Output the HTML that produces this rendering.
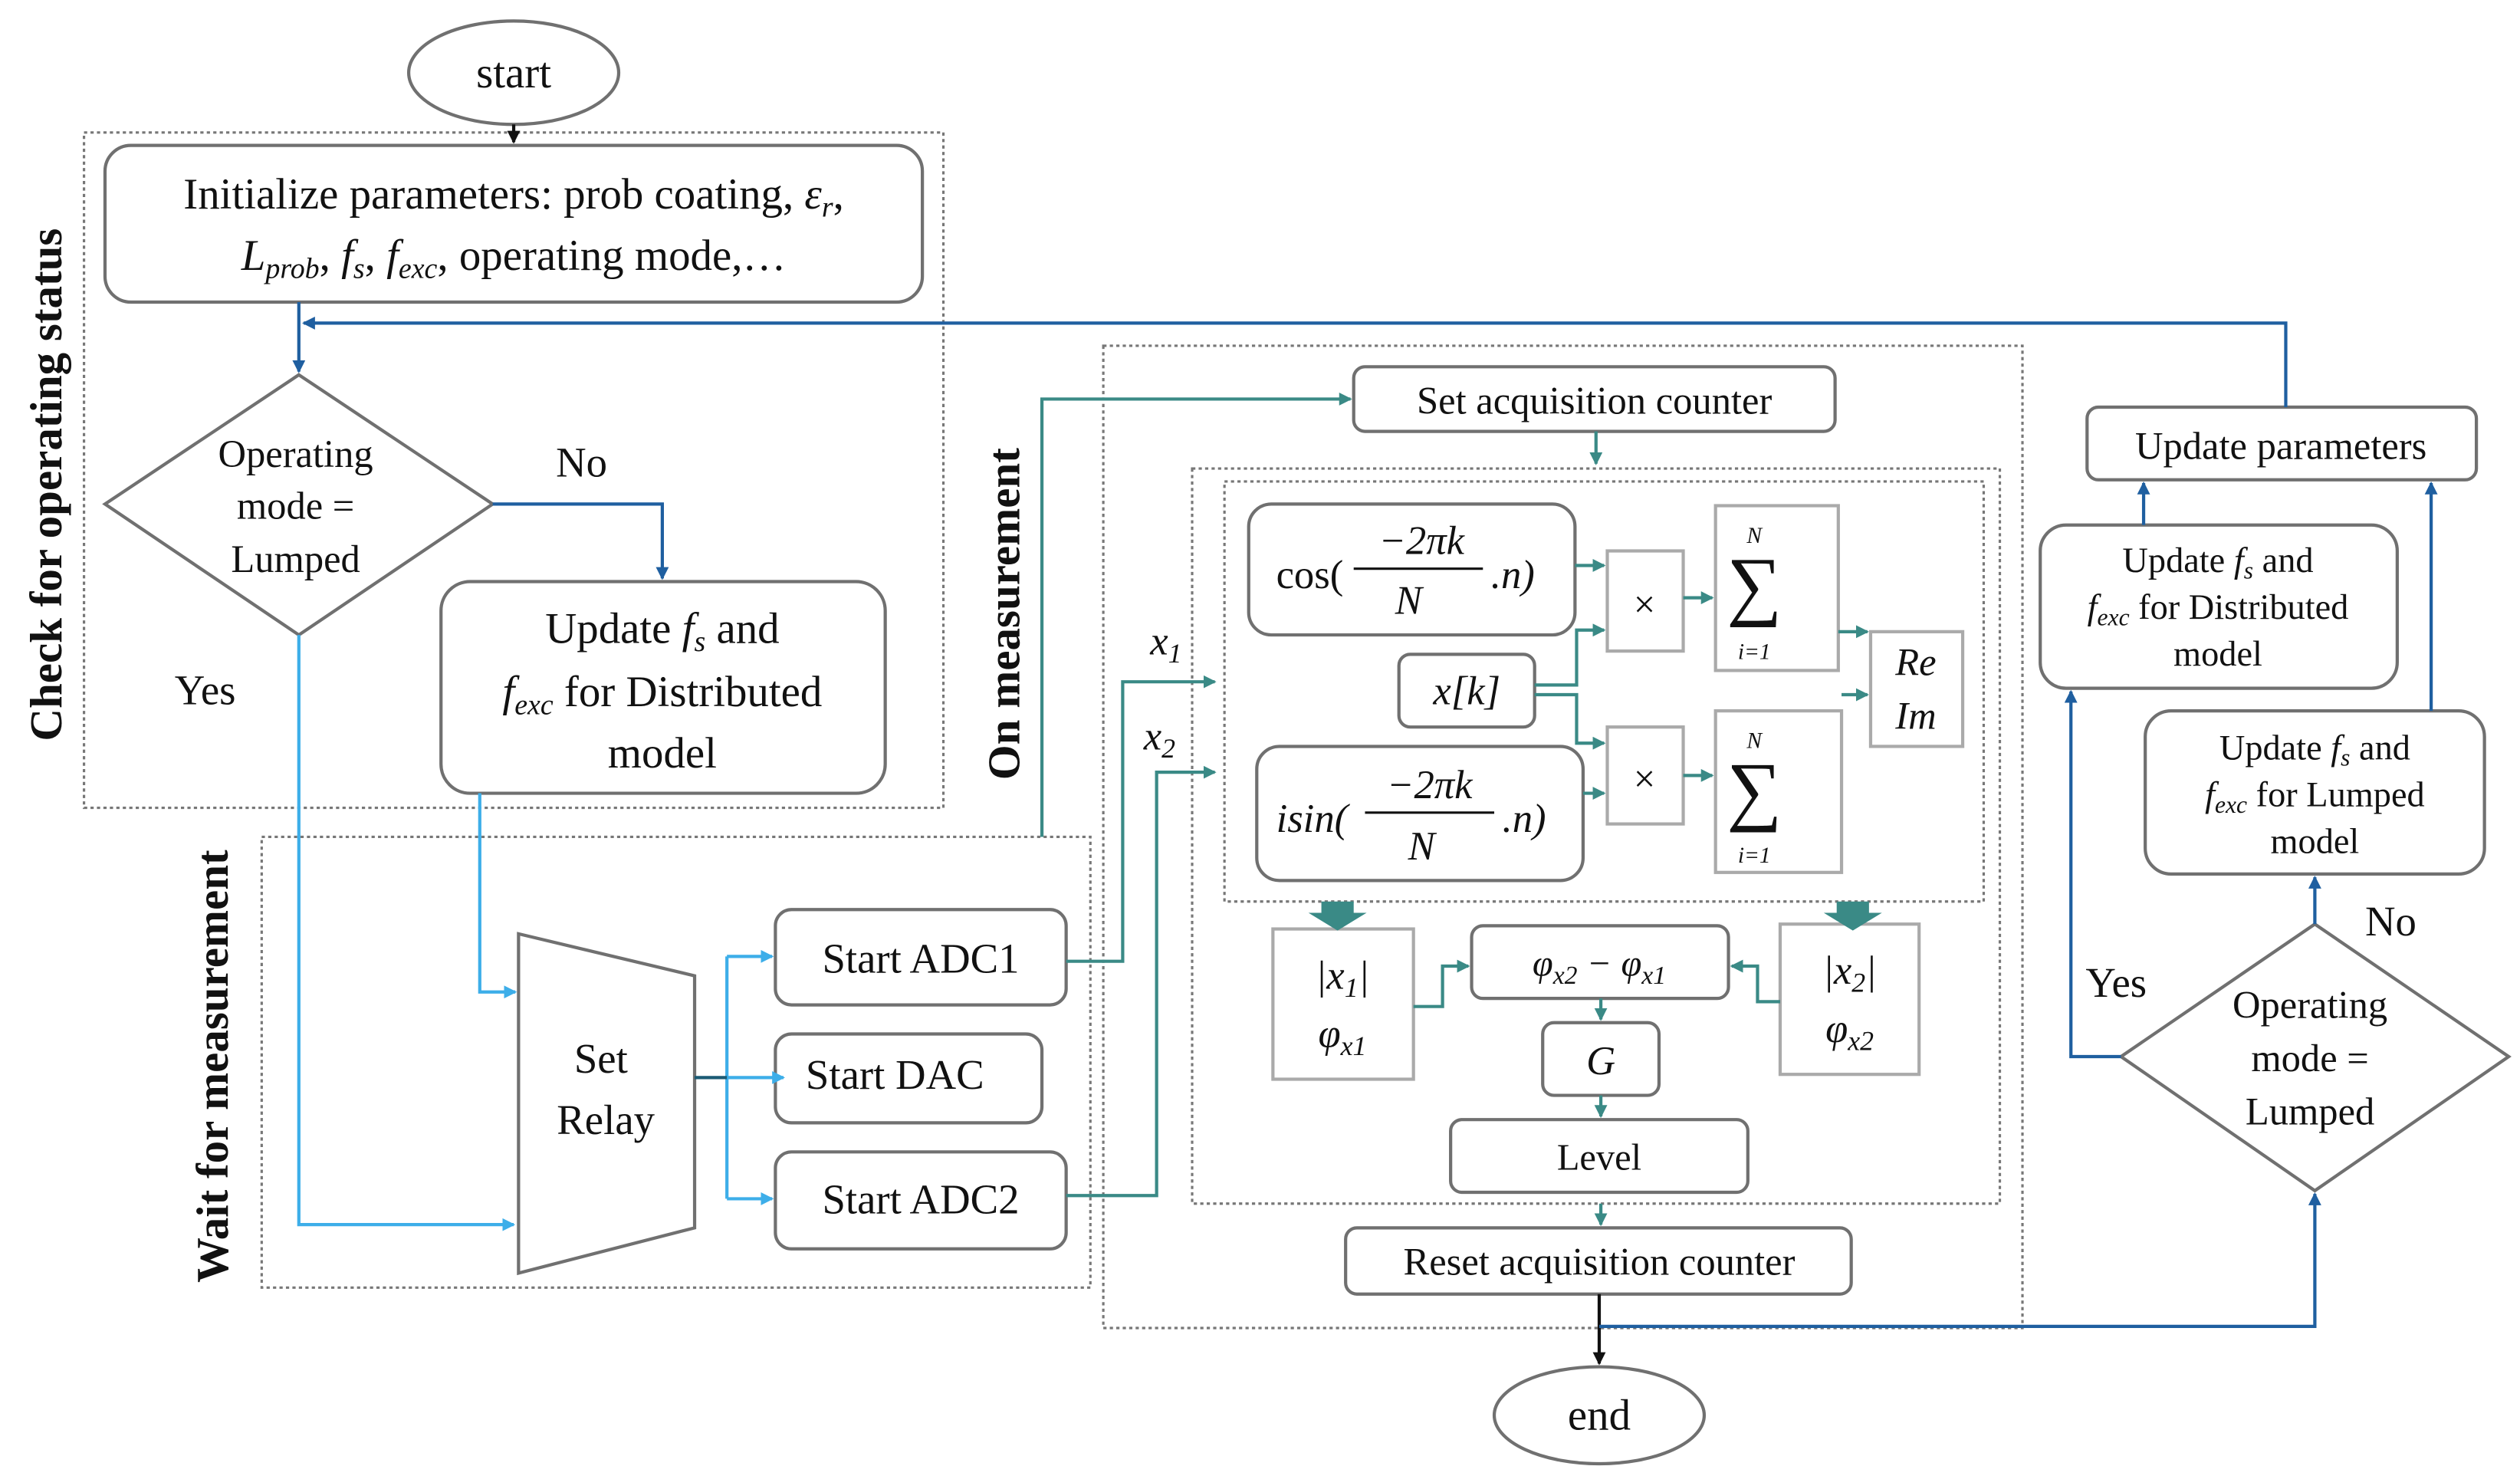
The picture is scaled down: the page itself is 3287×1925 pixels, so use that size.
<!DOCTYPE html>
<html><head><meta charset="utf-8"><style>
html,body{margin:0;padding:0;background:#fff;}
svg{display:block;}
text{font-family:"Liberation Serif",serif;fill:#111;}
.i{font-style:italic;}
</style></head><body>
<svg width="3287" height="1925" viewBox="0 0 1560 913.6" xmlns="http://www.w3.org/2000/svg">
<defs>
<marker id="ab" markerWidth="8" markerHeight="8" refX="7" refY="4" orient="auto" markerUnits="userSpaceOnUse"><path d="M0,0 L8,4 L0,8 z" fill="#1f5fa0"/></marker>
<marker id="al" markerWidth="8" markerHeight="8" refX="7" refY="4" orient="auto" markerUnits="userSpaceOnUse"><path d="M0,0 L8,4 L0,8 z" fill="#3daee9"/></marker>
<marker id="at" markerWidth="8" markerHeight="8" refX="7" refY="4" orient="auto" markerUnits="userSpaceOnUse"><path d="M0,0 L8,4 L0,8 z" fill="#3a8a86"/></marker>
<marker id="ak" markerWidth="8" markerHeight="8" refX="7" refY="4" orient="auto" markerUnits="userSpaceOnUse"><path d="M0,0 L8,4 L0,8 z" fill="#111"/></marker>
</defs>
<g fill="none" stroke="#777" stroke-width="1.5" stroke-dasharray="2,2">
<rect x="52" y="82" width="532" height="418"/>
<rect x="162" y="518" width="513" height="279"/>
<rect x="683" y="214" width="569" height="608"/>
<rect x="738" y="290" width="500" height="455"/>
<rect x="758" y="298" width="470" height="260"/>
</g>
<g fill="#fff" stroke="#707070" stroke-width="2">
<ellipse cx="318" cy="45" rx="65" ry="32"/>
<rect x="65" y="90" width="506" height="97" rx="16"/>
<polygon points="185,232 305,312 185,393 65,312"/>
<rect x="273" y="360" width="275" height="131" rx="18"/>
<polygon points="321,578 430,604 430,760 321,788"/>
<rect x="480" y="563" width="180" height="59" rx="10"/>
<rect x="480" y="640" width="165" height="55" rx="10"/>
<rect x="480" y="713" width="180" height="60" rx="10"/>
<rect x="838" y="227" width="298" height="40" rx="7"/>
<rect x="773" y="312" width="202" height="81" rx="14"/>
<rect x="778" y="462" width="202" height="83" rx="14"/>
<rect x="866" y="405" width="84" height="45" rx="7"/>
<rect x="911" y="573" width="159" height="45" rx="7"/>
<rect x="955" y="633" width="72" height="45" rx="7"/>
<rect x="898" y="693" width="184" height="45" rx="7"/>
<rect x="833" y="760" width="313" height="41" rx="7"/>
<ellipse cx="990" cy="876" rx="65" ry="30"/>
<polygon points="1433,572 1553,654 1433,737 1313,654"/>
<rect x="1263" y="325" width="221" height="101" rx="16"/>
<rect x="1328" y="440" width="210" height="101" rx="16"/>
<rect x="1292" y="252" width="241" height="45" rx="7"/>
</g>
<g fill="#fff" stroke="#aaa" stroke-width="2">
<rect x="995" y="341" width="47" height="62"/>
<rect x="995" y="450" width="47" height="60"/>
<rect x="1062" y="313" width="76" height="102"/>
<rect x="1062" y="440" width="78" height="100"/>
<rect x="1158" y="391" width="57" height="71"/>
<rect x="788" y="575" width="87" height="93"/>
<rect x="1102" y="572" width="86" height="93"/>
</g>
<g fill="none" stroke-width="2">
<path d="M318,77 V88" stroke="#111" marker-end="url(#ak)"/>
<path d="M1415,252 V200 H188" stroke="#1f5fa0" marker-end="url(#ab)"/>
<path d="M185,187 V230" stroke="#1f5fa0" marker-end="url(#ab)"/>
<path d="M305,312 H410 V358" stroke="#1f5fa0" marker-end="url(#ab)"/>
<path d="M185,393 V758 H318" stroke="#3daee9" marker-end="url(#al)"/>
<path d="M297,491 V614 H319" stroke="#3daee9" marker-end="url(#al)"/>
<path d="M450,592 V742" stroke="#3daee9"/>
<path d="M450,592 H478" stroke="#3daee9" marker-end="url(#al)"/>
<path d="M450,742 H478" stroke="#3daee9" marker-end="url(#al)"/>
<path d="M450,667 H485" stroke="#3daee9" marker-end="url(#al)"/>
<path d="M430,667 H450" stroke="#1b5b75"/>
<path d="M645,518 V247 H836" stroke="#3a8a86" marker-end="url(#at)"/>
<path d="M988,267 V287" stroke="#3a8a86" marker-end="url(#at)"/>
<path d="M660,595 H695 V422 H752" stroke="#3a8a86" marker-end="url(#at)"/>
<path d="M660,740 H716 V478 H752" stroke="#3a8a86" marker-end="url(#at)"/>
<path d="M975,350 H993" stroke="#3a8a86" marker-end="url(#at)"/>
<path d="M980,491 H993" stroke="#3a8a86" marker-end="url(#at)"/>
<path d="M950,424 H976 V390 H993" stroke="#3a8a86" marker-end="url(#at)"/>
<path d="M950,430 H976 V460 H993" stroke="#3a8a86" marker-end="url(#at)"/>
<path d="M1042,370 H1060" stroke="#3a8a86" marker-end="url(#at)"/>
<path d="M1042,480 H1060" stroke="#3a8a86" marker-end="url(#at)"/>
<path d="M1138,391 H1156" stroke="#3a8a86" marker-end="url(#at)"/>
<path d="M1140,430 H1156" stroke="#3a8a86" marker-end="url(#at)"/>
<path d="M875,623 H893 V598 H909" stroke="#3a8a86" marker-end="url(#at)"/>
<path d="M1102,620 H1088 V598 H1072" stroke="#3a8a86" marker-end="url(#at)"/>
<path d="M991,618 V631" stroke="#3a8a86" marker-end="url(#at)"/>
<path d="M991,678 V691" stroke="#3a8a86" marker-end="url(#at)"/>
<path d="M991,745 V758" stroke="#3a8a86" marker-end="url(#at)"/>
<path d="M990,801 V844" stroke="#111" marker-end="url(#ak)"/>
<path d="M990,821 H1433 V739" stroke="#1f5fa0" marker-end="url(#ab)"/>
<path d="M1313,654 H1282 V428" stroke="#1f5fa0" marker-end="url(#ab)"/>
<path d="M1433,572 V543" stroke="#1f5fa0" marker-end="url(#ab)"/>
<path d="M1505,440 V299" stroke="#1f5fa0" marker-end="url(#ab)"/>
<path d="M1327,325 V299" stroke="#1f5fa0" marker-end="url(#ab)"/>
</g>
<polygon points="818,558 838,558 838,565 846,565 828,576 810,565 818,565" fill="#3a8a86"/>
<polygon points="1137,558 1157,558 1157,565 1165,565 1147,576 1129,565 1137,565" fill="#3a8a86"/>
<g font-size="27" text-anchor="middle">
<text x="318" y="54">start</text>
<text x="318" y="129">Initialize parameters: prob coating, <tspan class="i">ε</tspan><tspan class="i" font-size="18" dy="5">r</tspan><tspan dy="-5">,</tspan></text>
<text x="318" y="167"><tspan class="i">L</tspan><tspan class="i" font-size="18" dy="5">prob</tspan><tspan dy="-5">, </tspan><tspan class="i">f</tspan><tspan class="i" font-size="18" dy="5">s</tspan><tspan dy="-5">, </tspan><tspan class="i">f</tspan><tspan class="i" font-size="18" dy="5">exc</tspan><tspan dy="-5">, operating mode,…</tspan></text>
<text x="410" y="398">Update <tspan class="i">f</tspan><tspan class="i" font-size="18" dy="5">s</tspan><tspan dy="-5"> and</tspan></text>
<text x="410" y="437"><tspan class="i">f</tspan><tspan class="i" font-size="18" dy="5">exc</tspan><tspan dy="-5"> for Distributed</tspan></text>
<text x="410" y="475">model</text>
<text x="360" y="295" font-size="26">No</text>
<text x="127" y="436" font-size="26">Yes</text>
<text x="570" y="602" font-size="26">Start ADC1</text>
<text x="554" y="674" font-size="26">Start DAC</text>
<text x="570" y="751" font-size="26">Start ADC2</text>
<text x="372" y="664" font-size="26">Set</text>
<text x="375" y="702" font-size="26">Relay</text>
<text x="990" y="885">end</text>
</g>
<g font-size="24" text-anchor="middle">
<text x="183" y="289">Operating</text>
<text x="183" y="321">mode =</text>
<text x="183" y="354">Lumped</text>
<text x="1430" y="630">Operating</text>
<text x="1430" y="663">mode =</text>
<text x="1430" y="696">Lumped</text>
<text x="1310" y="617" font-size="26">Yes</text>
<text x="1480" y="579" font-size="26">No</text>
<text x="987" y="256">Set acquisition counter</text>
<text x="990" y="789">Reset acquisition counter</text>
<text x="1412" y="284">Update parameters</text>
</g>
<g font-size="22" text-anchor="middle">
<text x="1373" y="354">Update <tspan class="i">f</tspan><tspan class="i" font-size="15" dy="4">s</tspan><tspan dy="-4"> and</tspan></text>
<text x="1373" y="383"><tspan class="i">f</tspan><tspan class="i" font-size="15" dy="4">exc</tspan><tspan dy="-4"> for Distributed</tspan></text>
<text x="1373" y="412">model</text>
<text x="1433" y="470">Update <tspan class="i">f</tspan><tspan class="i" font-size="15" dy="4">s</tspan><tspan dy="-4"> and</tspan></text>
<text x="1433" y="499"><tspan class="i">f</tspan><tspan class="i" font-size="15" dy="4">exc</tspan><tspan dy="-4"> for Lumped</tspan></text>
<text x="1433" y="528">model</text>
</g>
<g font-weight="bold" font-size="28" text-anchor="middle">
<text transform="translate(38,300) rotate(-90)">Check for operating status</text>
<text transform="translate(141,660) rotate(-90)">Wait for measurement</text>
<text transform="translate(631,380) rotate(-90)">On measurement</text>
</g>
<g font-size="25">
<text x="790" y="364">cos(</text>
<text x="880" y="343" text-anchor="middle" class="i">−2πk</text>
<line x1="838" y1="352" x2="918" y2="352" stroke="#111" stroke-width="1.5"/>
<text x="872" y="380" text-anchor="middle" class="i">N</text>
<text x="923" y="364" class="i">.n)</text>
<text x="790" y="515" class="i">isin(</text>
<text x="885" y="494" text-anchor="middle" class="i">−2πk</text>
<line x1="845" y1="503" x2="925" y2="503" stroke="#111" stroke-width="1.5"/>
<text x="880" y="532" text-anchor="middle" class="i">N</text>
<text x="930" y="515" class="i">.n)</text>
<text x="908" y="436" text-anchor="middle" class="i">x[k]</text>
<text x="1018" y="382" text-anchor="middle" font-family="DejaVu Sans" font-size="24">×</text>
<text x="1018" y="490" text-anchor="middle" font-family="DejaVu Sans" font-size="24">×</text>
<text x="1186" y="418" text-anchor="middle" class="i" font-size="24">Re</text>
<text x="1186" y="451" text-anchor="middle" class="i" font-size="24">Im</text>
<text x="712" y="405" class="i">x<tspan font-size="17" dy="5">1</tspan></text>
<text x="708" y="464" class="i">x<tspan font-size="17" dy="5">2</tspan></text>
<text x="831" y="612" text-anchor="middle" class="i">|x<tspan font-size="17" dy="5">1</tspan><tspan dy="-5">|</tspan></text>
<text x="831" y="648" text-anchor="middle" class="i">φ<tspan font-size="17" dy="5">x1</tspan></text>
<text x="1145" y="609" text-anchor="middle" class="i">|x<tspan font-size="17" dy="5">2</tspan><tspan dy="-5">|</tspan></text>
<text x="1145" y="645" text-anchor="middle" class="i">φ<tspan font-size="17" dy="5">x2</tspan></text>
<text x="990" y="604" text-anchor="middle" class="i" font-size="23">φ<tspan font-size="16" dy="5">x2</tspan><tspan dy="-5"> − φ</tspan><tspan font-size="16" dy="5">x1</tspan></text>
<text x="991" y="665" text-anchor="middle" class="i">G</text>
<text x="990" y="724" text-anchor="middle" font-family="Liberation Sans" font-size="23">Level</text>
</g>
<g text-anchor="middle">
<text x="1086" y="336" class="i" font-size="14">N</text>
<text x="1086" y="378" font-size="48" font-family="DejaVu Sans">∑</text>
<text x="1086" y="408" class="i" font-size="14">i=1</text>
<text x="1086" y="463" class="i" font-size="14">N</text>
<text x="1086" y="505" font-size="48" font-family="DejaVu Sans">∑</text>
<text x="1086" y="534" class="i" font-size="14">i=1</text>
</g>
</svg>
</body></html>
